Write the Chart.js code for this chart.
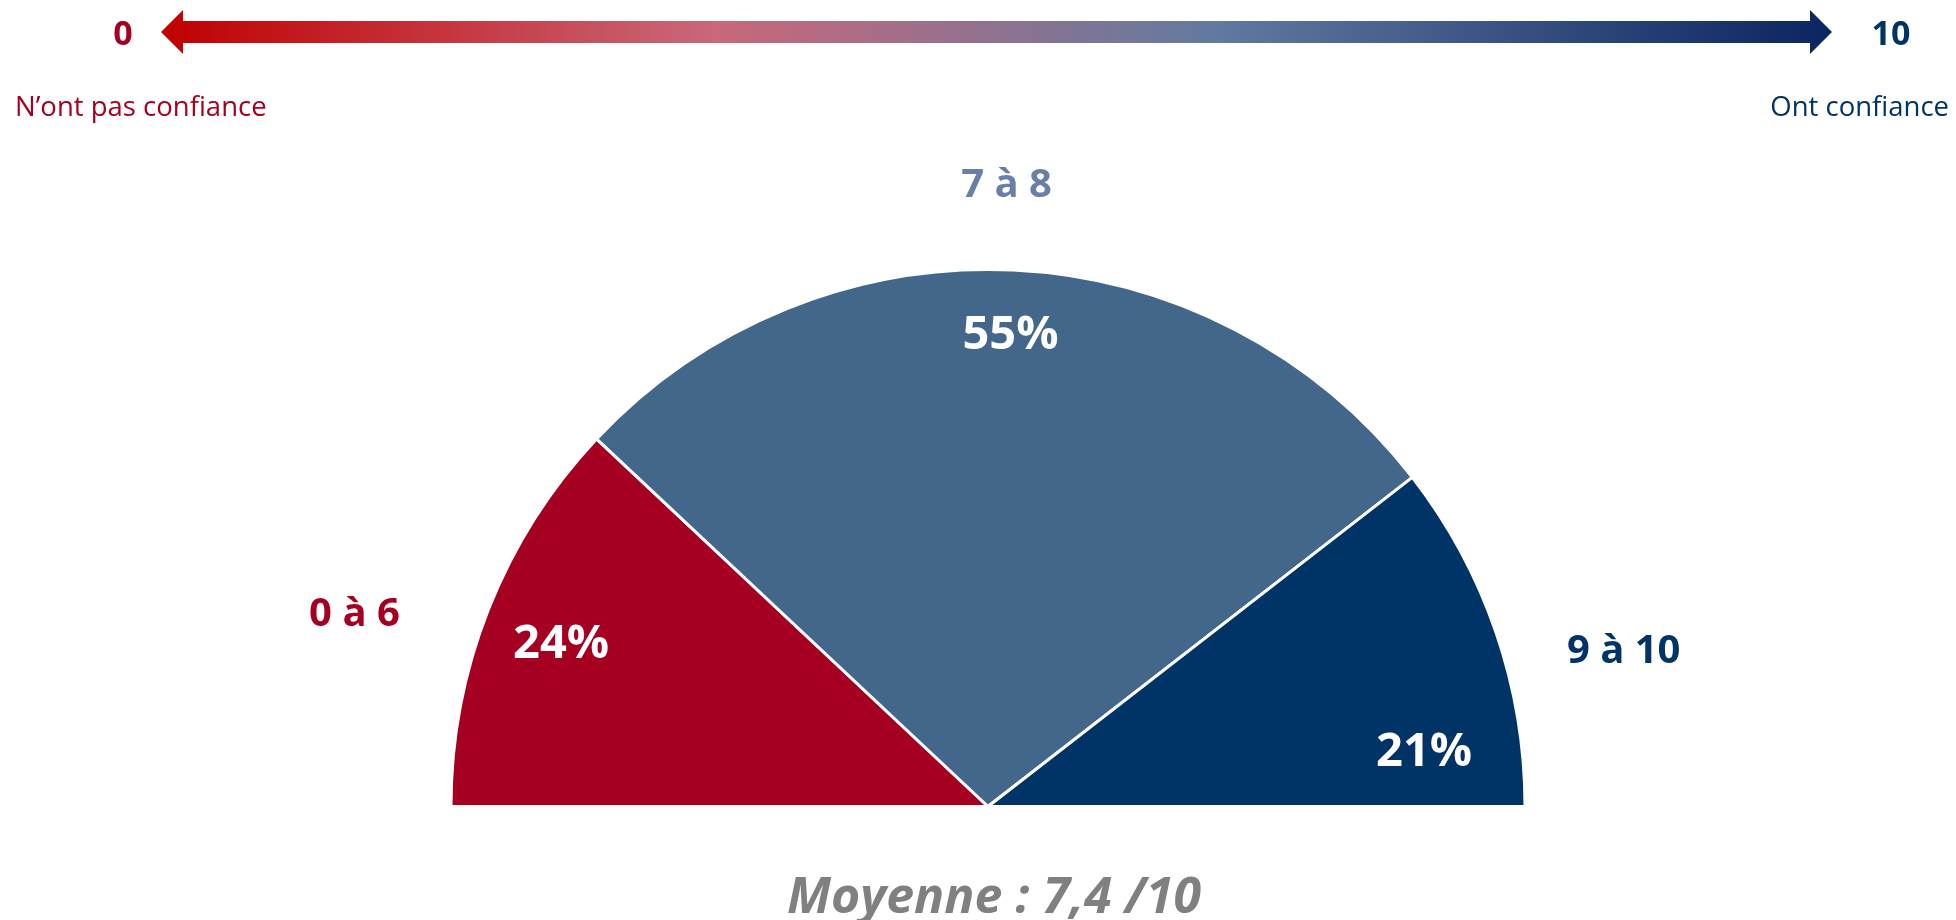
<!DOCTYPE html>
<html>
<head>
<meta charset="utf-8">
<script src="https://cdn.jsdelivr.net/npm/chart.js@4.4.1/dist/chart.umd.min.js"></script>
<style>
  html, body { margin: 0; padding: 0; background: #fff; }
  #wrap { width: 1956px; height: 920px; position: relative; }
</style>
</head>
<body>
<div id="wrap"><canvas id="gauge"></canvas></div>
<script>
// data
const categories = ['0 à 6', '7 à 8', '9 à 10'];
const shares = [24, 55, 21];
const meanScore = '7,4';
const scaleEnds = ['0', '10'];
const scaleCaptions = ['N\u2019ont pas confiance', 'Ont confiance'];

const sliceColors = ['#a50021', '#43668b', '#003366'];
const labelColors = ['#a50021', '#6a7fa8', '#003366'];
const FONT = '"Open Sans", "Noto Sans", sans-serif';

// where labels sit: fraction of radius + angle nudge (deg) from slice middle
const insidePos = [{ r: 0.855, da: 0 }, { r: 0.89, da: 0 }, { r: 0.82, da: 11 }];
const outsidePos = [{ r: 1.235, da: -4.4 }, { r: 1.165, da: -1 }, { r: 1.22, da: 4.9 }];

// gradient arrow + captions on top
const scaleArrow = {
  id: 'scaleArrow',
  beforeDraw(chart) {
    const ctx = chart.ctx;
    const x0 = 161, x1 = 1832, yc = 32, half = 11, head = 22, headHalf = 22;
    const g = ctx.createLinearGradient(x0, 0, x1, 0);
    g.addColorStop(0, '#c00000');
    g.addColorStop(0.33, '#c9687a');
    g.addColorStop(0.63, '#627aa0');
    g.addColorStop(1, '#0a2560');
    ctx.save();
    ctx.fillStyle = g;
    ctx.beginPath();
    ctx.moveTo(x0, yc);
    ctx.lineTo(x0 + head, yc - headHalf);
    ctx.lineTo(x0 + head, yc - half);
    ctx.lineTo(x1 - head, yc - half);
    ctx.lineTo(x1 - head, yc - headHalf);
    ctx.lineTo(x1, yc);
    ctx.lineTo(x1 - head, yc + headHalf);
    ctx.lineTo(x1 - head, yc + half);
    ctx.lineTo(x0 + head, yc + half);
    ctx.lineTo(x0 + head, yc + headHalf);
    ctx.closePath();
    ctx.fill();

    ctx.textBaseline = 'alphabetic';
    ctx.font = 'bold 34px ' + FONT;
    ctx.fillStyle = '#a50021';
    ctx.textAlign = 'center';
    ctx.fillText(scaleEnds[0], 123, 45);
    ctx.fillStyle = '#003366';
    ctx.fillText(scaleEnds[1], 1891, 45);

    ctx.font = '27.5px ' + FONT;
    ctx.textAlign = 'left';
    ctx.fillStyle = '#a50021';
    ctx.fillText(scaleCaptions[0], 15, 116);
    ctx.textAlign = 'right';
    ctx.fillStyle = '#003366';
    ctx.fillText(scaleCaptions[1], 1949, 116);
    ctx.restore();
  }
};

const sliceLabels = {
  id: 'sliceLabels',
  afterDatasetsDraw(chart) {
    const ctx = chart.ctx;
    const meta = chart.getDatasetMeta(0);
    ctx.save();
    ctx.textAlign = 'center';
    ctx.textBaseline = 'middle';
    meta.data.forEach((arc, i) => {
      const p = arc.getProps(['x', 'y', 'startAngle', 'endAngle', 'outerRadius'], true);
      const mid = (p.startAngle + p.endAngle) / 2;
      const a1 = mid + insidePos[i].da * Math.PI / 180;
      ctx.font = 'bold 47px ' + FONT;
      ctx.fillStyle = '#ffffff';
      ctx.fillText(shares[i] + '%', p.x + Math.cos(a1) * p.outerRadius * insidePos[i].r,
        p.y + Math.sin(a1) * p.outerRadius * insidePos[i].r + 7);
      const a2 = mid + outsidePos[i].da * Math.PI / 180;
      ctx.font = 'bold 40px ' + FONT;
      ctx.fillStyle = labelColors[i];
      ctx.fillText(categories[i], p.x + Math.cos(a2) * p.outerRadius * outsidePos[i].r,
        p.y + Math.sin(a2) * p.outerRadius * outsidePos[i].r + 4);
    });
    ctx.font = 'italic bold 50px ' + FONT;
    ctx.fillStyle = '#808080';
    ctx.textBaseline = 'alphabetic';
    ctx.fillText('Moyenne : ' + meanScore + ' /10', 994, 913);
    ctx.restore();
  }
};

new Chart(document.getElementById('gauge'), {
  type: 'pie',
  data: {
    labels: categories,
    datasets: [{
      data: shares,
      backgroundColor: sliceColors,
      borderColor: '#ffffff',
      borderWidth: 3
    }]
  },
  options: {
    responsive: true,
    maintainAspectRatio: false,
    animation: false,
    rotation: -90,
    circumference: 180,
    layout: { padding: { left: 449, right: 429, top: 268, bottom: 112 } },
    plugins: {
      legend: { display: false },
      tooltip: { enabled: false }
    }
  },
  plugins: [scaleArrow, sliceLabels]
});
</script>
</body>
</html>
